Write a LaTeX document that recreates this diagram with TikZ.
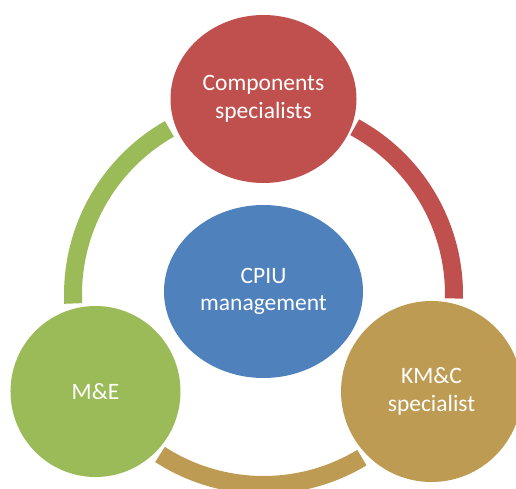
\documentclass[tikz,border=0pt]{standalone}
\usepackage{fontspec}
\setmainfont{Carlito}
\usetikzlibrary{shapes, calc}
\definecolor{teamLead}{HTML}{4F81BD}
\definecolor{teamComp}{HTML}{C0504D}
\definecolor{teamKmc}{HTML}{BE9B52}
\definecolor{teamMe}{HTML}{9BBB59}

\begin{document}
\begin{tikzpicture}[x=1pt, y=1pt,
  role/.style={ellipse, inner sep=0pt, align=center, text=white, font=\fontsize{23.5}{27.5}\selectfont},
  ring/.style={line width=18pt}
]
\useasboundingbox (0,0) rectangle (516,488);
\clip (0,0) rectangle (516,488);
\coordinate (hub) at (263.5,193.5);

\node[role, fill=teamLead, minimum width=199pt, minimum height=173pt] (lead) at ($(hub)+(0,3)$) {CPIU\\management};
\node[role, fill=teamComp, minimum width=186pt, minimum height=168pt] (comp) at ($(hub)+(90:195.5)$) {Components\\specialists};
\node[role, fill=teamKmc, minimum width=181pt, minimum height=181pt] (kmc) at ($(hub)+(330:194)$) {KM\&C\\specialist};
\node[role, fill=teamMe, minimum width=170pt, minimum height=171pt] (me) at ($(hub)+(210:194)$) {M\&E};

\draw[ring, teamComp] ($(hub)+(61.4:190.5)$) arc[start angle=61.4, end angle=-1.2, radius=190.5];
\draw[ring, teamKmc] ($(hub)+(301.1:190.5)$) arc[start angle=301.1, end angle=237.1, radius=190.5];
\draw[ring, teamMe] ($(hub)+(182.7:190.5)$) arc[start angle=182.7, end angle=119.6, radius=190.5];
\end{tikzpicture}
\end{document}
